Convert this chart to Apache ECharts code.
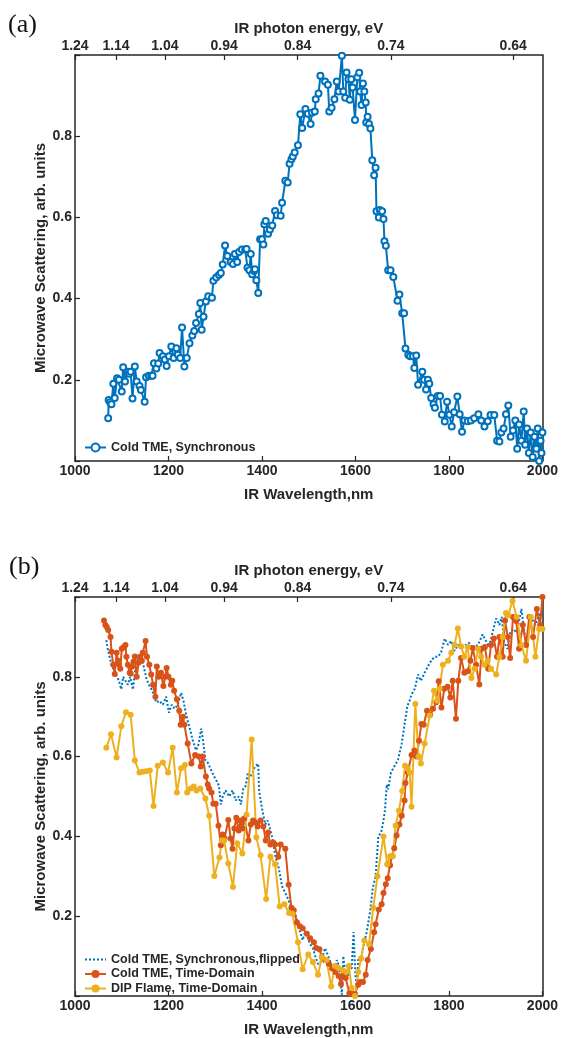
<!DOCTYPE html>
<html><head><meta charset="utf-8">
<script src="https://cdn.jsdelivr.net/npm/echarts@6/dist/echarts.min.js"></script>
<style>html,body{margin:0;padding:0;background:#fff}#c{width:561px;height:1038px}</style>
</head><body><div id="c"></div>
<script>
// ---------- tick labels ----------
const energyTicks = [1.24, 1.14, 1.04, 0.94, 0.84, 0.74, 0.64];   // eV, top axis
const wlRange = [1000, 2000];                                      // nm, bottom axis

// ---------- panel (a): Cold TME, Synchronous ----------
const syncWl = [1071,1072,1075,1078,1082,1085,1090,1094,1100,1103,1107,1113,1116,1119,1123,1128,1132,1138,1141,1149,1152,1158,1163,1166,1169,1174,1178,1181,1188,1192,1196,1201,1206,1211,1217,1220,1225,1229,1234,1239,1245,1251,1255,1259,1265,1268,1271,1275,1280,1285,1293,1296,1302,1308,1312,1316,1321,1326,1333,1338,1342,1347,1351,1357,1364,1367,1369,1373,1376,1379,1383,1385,1388,1392,1396,1400,1403,1405,1408,1413,1417,1422,1428,1432,1440,1443,1450,1455,1459,1463,1466,1470,1477,1482,1486,1493,1498,1504,1507,1513,1515,1521,1525,1535,1541,1544,1549,1555,1560,1564,1571,1574,1578,1581,1585,1588,1591,1594,1599,1604,1608,1610,1613,1616,1619,1622,1623,1626,1629,1632,1636,1640,1643,1645,1650,1652,1657,1660,1662,1665,1670,1675,1681,1690,1694,1700,1704,1707,1713,1717,1723,1726,1730,1734,1743,1747,1751,1755,1758,1762,1767,1770,1776,1781,1785,1791,1796,1801,1806,1811,1818,1823,1828,1833,1840,1847,1854,1863,1869,1876,1883,1889,1897,1903,1908,1912,1917,1922,1927,1932,1937,1942,1946,1950,1955,1960,1963,1967,1971,1975,1979,1983,1987,1990,1993,1996,1998,2000];
const syncVal = [0.105,0.15,0.145,0.14,0.19,0.155,0.204,0.2,0.171,0.231,0.196,0.22,0.215,0.22,0.154,0.233,0.196,0.185,0.175,0.146,0.206,0.21,0.21,0.21,0.241,0.228,0.24,0.266,0.258,0.25,0.234,0.258,0.282,0.254,0.278,0.262,0.254,0.329,0.233,0.254,0.29,0.309,0.32,0.34,0.362,0.389,0.323,0.355,0.393,0.406,0.402,0.444,0.452,0.458,0.463,0.484,0.531,0.505,0.49,0.485,0.51,0.49,0.515,0.521,0.521,0.522,0.476,0.47,0.51,0.46,0.468,0.472,0.445,0.414,0.546,0.546,0.533,0.583,0.591,0.56,0.57,0.58,0.616,0.605,0.604,0.636,0.69,0.686,0.732,0.743,0.75,0.76,0.778,0.854,0.82,0.867,0.855,0.83,0.858,0.861,0.891,0.905,0.949,0.935,0.927,0.861,0.87,0.891,0.935,0.91,0.998,0.91,0.895,0.957,0.94,0.89,0.94,0.92,0.84,0.945,0.956,0.91,0.877,0.93,0.91,0.883,0.834,0.848,0.83,0.819,0.741,0.704,0.722,0.615,0.6,0.618,0.615,0.596,0.541,0.53,0.47,0.47,0.453,0.395,0.41,0.364,0.364,0.277,0.262,0.258,0.258,0.229,0.26,0.188,0.22,0.2,0.176,0.2,0.19,0.155,0.14,0.131,0.16,0.16,0.114,0.097,0.146,0.114,0.085,0.12,0.159,0.115,0.072,0.1,0.098,0.1,0.105,0.115,0.1,0.085,0.098,0.113,0.113,0.05,0.048,0.07,0.08,0.115,0.137,0.06,0.075,0.1,0.03,0.09,0.05,0.122,0.04,0.08,0.02,0.07,0.01,0.06,0.03,0.08,0.0,0.05,0.02,0.07];

// ---------- panel (b) ----------
const flipWl = [1067,1070,1074,1078,1082,1086,1090,1094,1099,1103,1108,1113,1118,1124,1129,1133,1138,1143,1148,1153,1158,1163,1167,1174,1180,1188,1195,1201,1207,1213,1220,1227,1232,1237,1241,1248,1252,1259,1264,1270,1274,1279,1284,1294,1300,1305,1308,1312,1316,1322,1330,1337,1344,1350,1355,1360,1365,1370,1375,1380,1385,1392,1394,1401,1407,1412,1417,1422,1429,1436,1443,1450,1457,1462,1467,1473,1479,1482,1487,1492,1497,1503,1509,1514,1520,1525,1530,1535,1539,1545,1550,1555,1560,1565,1571,1574,1578,1582,1587,1592,1596,1600,1603,1606,1611,1616,1620,1624,1631,1637,1643,1649,1655,1660,1663,1667,1670,1676,1683,1691,1699,1705,1711,1716,1720,1727,1734,1740,1748,1755,1762,1769,1776,1783,1791,1798,1805,1812,1819,1826,1836,1843,1851,1862,1872,1879,1886,1893,1901,1908,1913,1918,1925,1931,1938,1945,1955,1965,1975,1985,1995,2000];
const flipVal = [0.892,0.87,0.85,0.83,0.82,0.81,0.8,0.79,0.769,0.8,0.79,0.78,0.8,0.768,0.82,0.84,0.858,0.85,0.82,0.795,0.78,0.77,0.76,0.736,0.74,0.73,0.75,0.71,0.73,0.72,0.73,0.76,0.74,0.71,0.69,0.66,0.64,0.616,0.63,0.67,0.64,0.59,0.585,0.559,0.545,0.535,0.526,0.48,0.5,0.515,0.5,0.515,0.49,0.5,0.48,0.52,0.526,0.56,0.55,0.56,0.575,0.582,0.513,0.464,0.43,0.44,0.42,0.397,0.349,0.32,0.275,0.258,0.24,0.22,0.21,0.2,0.168,0.16,0.14,0.16,0.15,0.13,0.12,0.1,0.08,0.085,0.1,0.12,0.118,0.09,0.07,0.06,0.09,0.075,0.003,0.1,0.06,0.045,0.065,0.07,0.16,0.05,0.02,0.095,0.085,0.12,0.14,0.16,0.209,0.27,0.3,0.4,0.41,0.44,0.464,0.53,0.518,0.56,0.575,0.592,0.633,0.68,0.727,0.74,0.756,0.77,0.806,0.79,0.81,0.826,0.84,0.85,0.85,0.86,0.896,0.88,0.89,0.865,0.88,0.875,0.88,0.885,0.87,0.88,0.906,0.89,0.875,0.91,0.946,0.93,0.95,0.888,0.87,0.91,0.92,0.91,0.97,0.88,0.95,0.93,0.96,0.95];

const tdWl = [1062,1065,1068,1071,1076,1078,1082,1085,1089,1092,1094,1097,1100,1104,1108,1110,1113,1117,1119,1122,1125,1128,1132,1136,1139,1143,1145,1151,1154,1159,1163,1167,1172,1175,1179,1184,1189,1193,1196,1200,1205,1208,1212,1218,1223,1226,1231,1234,1241,1249,1257,1265,1269,1273,1280,1284,1287,1292,1296,1301,1307,1312,1316,1320,1328,1333,1337,1341,1345,1350,1354,1358,1362,1371,1376,1381,1386,1391,1397,1403,1408,1413,1418,1424,1428,1435,1440,1450,1457,1463,1468,1475,1481,1487,1496,1503,1511,1516,1523,1528,1535,1543,1550,1557,1564,1569,1573,1579,1587,1592,1599,1606,1610,1616,1622,1626,1633,1640,1643,1650,1656,1660,1665,1669,1674,1678,1683,1688,1694,1699,1705,1707,1712,1720,1726,1731,1736,1741,1746,1753,1760,1766,1773,1778,1784,1790,1797,1803,1808,1815,1820,1826,1833,1840,1846,1851,1858,1865,1870,1877,1884,1890,1896,1903,1908,1915,1920,1926,1931,1937,1944,1950,1958,1965,1972,1980,1988,1995,2000];
const tdVal = [0.941,0.93,0.925,0.917,0.9,0.863,0.83,0.807,0.86,0.84,0.83,0.82,0.87,0.875,0.88,0.85,0.83,0.81,0.808,0.825,0.838,0.851,0.8,0.835,0.85,0.84,0.86,0.89,0.85,0.83,0.806,0.78,0.75,0.826,0.8,0.81,0.777,0.8,0.822,0.8,0.78,0.79,0.765,0.744,0.715,0.68,0.7,0.68,0.633,0.583,0.604,0.6,0.575,0.6,0.55,0.53,0.52,0.51,0.482,0.482,0.427,0.378,0.405,0.395,0.441,0.395,0.369,0.42,0.447,0.415,0.44,0.42,0.445,0.39,0.43,0.44,0.435,0.425,0.44,0.425,0.39,0.41,0.38,0.385,0.38,0.349,0.38,0.369,0.279,0.221,0.215,0.184,0.175,0.17,0.156,0.145,0.135,0.12,0.117,0.098,0.09,0.081,0.069,0.06,0.05,0.03,0.05,0.045,0.007,0.005,0.005,0.028,0.035,0.035,0.053,0.09,0.118,0.16,0.18,0.217,0.23,0.258,0.28,0.295,0.328,0.35,0.37,0.402,0.43,0.452,0.49,0.534,0.56,0.604,0.615,0.6,0.64,0.682,0.68,0.715,0.705,0.72,0.736,0.789,0.723,0.77,0.775,0.748,0.79,0.695,0.79,0.847,0.81,0.814,0.84,0.872,0.83,0.781,0.87,0.875,0.82,0.88,0.896,0.85,0.9,0.85,0.941,0.9,0.847,0.95,0.94,0.87,0.93,0.88,0.95,0.9,0.97,0.93,1.0];

const dipWl = [1067,1077,1089,1099,1109,1119,1128,1138,1145,1152,1160,1168,1177,1188,1199,1209,1218,1227,1235,1240,1248,1254,1260,1268,1279,1287,1298,1309,1314,1319,1328,1338,1347,1358,1367,1378,1388,1397,1409,1418,1428,1438,1448,1458,1465,1477,1487,1499,1509,1520,1528,1538,1548,1556,1563,1572,1580,1586,1592,1599,1606,1612,1619,1629,1638,1647,1660,1668,1674,1680,1686,1693,1700,1706,1712,1716,1720,1728,1735,1740,1748,1759,1768,1775,1780,1787,1798,1805,1812,1819,1826,1833,1840,1848,1855,1862,1869,1876,1883,1890,1901,1908,1915,1922,1927,1936,1945,1955,1965,1975,1985,1993,2000];
const dipVal = [0.622,0.656,0.598,0.676,0.711,0.705,0.59,0.56,0.562,0.563,0.565,0.476,0.577,0.585,0.56,0.622,0.51,0.571,0.579,0.51,0.52,0.525,0.515,0.52,0.495,0.452,0.301,0.347,0.39,0.39,0.332,0.273,0.383,0.357,0.454,0.643,0.398,0.353,0.243,0.349,0.33,0.224,0.23,0.208,0.206,0.135,0.067,0.104,0.085,0.053,0.098,0.09,0.024,0.075,0.07,0.065,0.06,0.075,0.02,0.0,0.06,0.094,0.139,0.13,0.221,0.3,0.4,0.33,0.35,0.35,0.427,0.464,0.514,0.577,0.57,0.56,0.474,0.732,0.6,0.583,0.633,0.703,0.765,0.74,0.77,0.83,0.84,0.86,0.88,0.921,0.876,0.85,0.875,0.797,0.82,0.87,0.85,0.83,0.84,0.82,0.806,0.85,0.9,0.96,0.955,0.99,0.95,0.88,0.84,0.95,0.85,0.92,0.92];

// ---------- build ----------
const zip = (a, b) => a.map((x, i) => [x, b[i]]);
const C = { blue: '#0072BD', orange: '#D95319', yellow: '#EDB120', ax: '#262626' };
const FONT = 'Liberation Sans, Arial, sans-serif';
const energyPos = energyTicks.map(e => 1240 / e);

function bottomX(gi) {
  return {
    type: 'value', gridIndex: gi, position: 'bottom', min: wlRange[0], max: wlRange[1], interval: 200,
    name: 'IR Wavelength,nm', nameLocation: 'middle', nameGap: 26, nameMoveOverlap: false,
    nameTextStyle: { fontFamily: FONT, fontWeight: 'bold', fontSize: 15, color: C.ax },
    axisLine: { show: true, onZero: false, lineStyle: { color: C.ax, width: 1.5 } },
    axisTick: { show: true, inside: true, length: 5, lineStyle: { color: C.ax, width: 1.2 } },
    axisLabel: { formatter: v => String(v), fontFamily: FONT, fontWeight: 'bold', fontSize: 14, color: C.ax, margin: 3 },
    splitLine: { show: false }
  };
}
function topX(gi) {
  return {
    type: 'value', gridIndex: gi, position: 'top', min: wlRange[0], max: wlRange[1],
    name: 'IR photon energy, eV', nameLocation: 'middle', nameGap: 19, nameMoveOverlap: false,
    nameTextStyle: { fontFamily: FONT, fontWeight: 'bold', fontSize: 15, color: C.ax },
    axisLine: { show: true, onZero: false, lineStyle: { color: C.ax, width: 1.5 } },
    axisTick: { show: true, inside: true, length: 5, customValues: energyPos, lineStyle: { color: C.ax, width: 1.2 } },
    axisLabel: { customValues: energyPos, formatter: v => (1240 / v).toFixed(2),
      fontFamily: FONT, fontWeight: 'bold', fontSize: 14, color: C.ax, margin: 2 },
    splitLine: { show: false }
  };
}
function leftY(gi) {
  return {
    type: 'value', gridIndex: gi, position: 'left', min: 0, max: 1, interval: 0.2,
    name: 'Microwave Scattering, arb. units', nameLocation: 'middle', nameGap: 27, nameMoveOverlap: false,
    nameTextStyle: { fontFamily: FONT, fontWeight: 'bold', fontSize: 15, color: C.ax },
    axisLine: { show: true, onZero: false, lineStyle: { color: C.ax, width: 1.5 } },
    axisTick: { show: true, inside: true, length: 5, lineStyle: { color: C.ax, width: 1.2 } },
    axisLabel: { formatter: v => (v <= 0.001 || v >= 0.999) ? '' : v.toFixed(1),
      fontFamily: FONT, fontWeight: 'bold', fontSize: 14, color: C.ax, margin: 3 },
    splitLine: { show: false }
  };
}
function rightY(gi) {
  return {
    type: 'value', gridIndex: gi, position: 'right', min: 0, max: 1,
    axisLine: { show: true, onZero: false, lineStyle: { color: C.ax, width: 1.5 } },
    axisTick: { show: false }, axisLabel: { show: false }, splitLine: { show: false }
  };
}
const legendText = { fontFamily: FONT, fontWeight: 'bold', fontSize: 12.5, lineHeight: 12, color: C.ax };

const option = {
  animation: false,
  backgroundColor: '#fff',
  grid: [
    { left: 75, right: 16, top: 55, height: 406 },
    { left: 75, right: 16, top: 597, height: 404 }
  ],
  xAxis: [bottomX(0), topX(0), bottomX(1), topX(1)],
  yAxis: [leftY(0), rightY(0), leftY(1), rightY(1)],
  legend: [
    { orient: 'vertical', left: 84, top: 441, padding: 0, itemWidth: 21, itemHeight: 10, itemGap: 2,
      textStyle: legendText, data: ['Cold TME, Synchronous'] },
    { orient: 'vertical', left: 84, top: 953, padding: 0, itemWidth: 21, itemHeight: 10, itemGap: 1.5,
      textStyle: legendText,
      data: [{ name: 'Cold TME, Synchronous,flipped', itemStyle: { opacity: 0 } },
             'Cold TME, Time-Domain', 'DIP Flame, Time-Domain'] }
  ],
  graphic: [
    { type: 'text', left: 8, top: 12, style: { text: '(a)', font: '26px "Liberation Serif", serif', fill: '#111' } },
    { type: 'text', left: 9, top: 554, style: { text: '(b)', font: '26px "Liberation Serif", serif', fill: '#111' } }
  ],
  series: [
    { name: 'Cold TME, Synchronous', type: 'line', xAxisIndex: 0, yAxisIndex: 0,
      data: zip(syncWl, syncVal), symbol: 'emptyCircle', symbolSize: 6,
      lineStyle: { color: C.blue, width: 2 },
      itemStyle: { color: C.blue, borderColor: C.blue, borderWidth: 1.5 } },
    { name: 'Cold TME, Synchronous,flipped', type: 'line', xAxisIndex: 2, yAxisIndex: 2,
      data: zip(flipWl, flipVal), symbol: 'none',
      lineStyle: { color: C.blue, width: 2, type: [2, 2] },
      itemStyle: { color: C.blue } },
    { name: 'Cold TME, Time-Domain', type: 'line', xAxisIndex: 2, yAxisIndex: 2,
      data: zip(tdWl, tdVal), symbol: 'circle', symbolSize: 6,
      lineStyle: { color: C.orange, width: 2 },
      itemStyle: { color: C.orange } },
    { name: 'DIP Flame, Time-Domain', type: 'line', xAxisIndex: 2, yAxisIndex: 2,
      data: zip(dipWl, dipVal), symbol: 'circle', symbolSize: 6,
      lineStyle: { color: C.yellow, width: 2 },
      itemStyle: { color: C.yellow } }
  ]
};
const chart = echarts.init(document.getElementById('c'), null, { renderer: 'canvas' });
chart.setOption(option);
</script></body></html>
